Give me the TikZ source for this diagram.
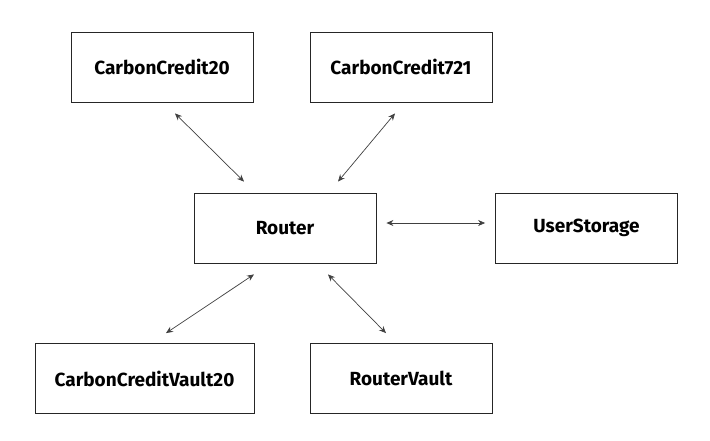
\documentclass[tikz,border=0pt]{standalone}
\usepackage{fontspec}
\setmainfont{Fira Sans}
\usepackage{tikz}
\usetikzlibrary{positioning, arrows.meta}

\tikzset{
    module/.style={draw=black!85, line width=0.8pt, fill=white, minimum width=182pt, minimum height=70pt, inner sep=0pt, font=\bfseries\fontsize{19}{22}\selectfont},
    link/.style={{Stealth[length=7pt,width=6pt]}-{Stealth[length=7pt,width=6pt]}, draw=black!75, line width=0.7pt}
}

\begin{document}
\begin{tikzpicture}[x=1pt, y=-1pt]
    \useasboundingbox (0,0) rectangle (710,440);
    % Contracts
    \node [module] (cc20) at (162,67) {CarbonCredit20};
    \node [module] (cc721) at (401,67) {CarbonCredit721};
    \node [module] (router) at (285,228) {Router};
    \node [module] (storage) at (586.5,228) {UserStorage};
    \node [module, minimum width=219pt] (vault20) at (144.5,378.5) {CarbonCreditVault20};
    \node [module] (rvault) at (401,378.5) {RouterVault};
    % Links to the router
    \draw [link] ([xshift=13pt,yshift=-11pt]cc20.south) -- ([xshift=-41pt,yshift=11pt]router.north);
    \draw [link] ([xshift=-6pt,yshift=-11pt]cc721.south) -- ([xshift=53pt,yshift=11pt]router.north);
    \draw [link] ([xshift=10pt,yshift=5pt]router.east) -- ([xshift=-10pt,yshift=5pt]storage.west);
    \draw [link] ([xshift=-31pt,yshift=-11pt]router.south) -- ([xshift=21.5pt,yshift=10pt]vault20.north);
    \draw [link] ([xshift=43pt,yshift=-11pt]router.south) -- ([xshift=-15pt,yshift=10pt]rvault.north);
\end{tikzpicture}
\end{document}
